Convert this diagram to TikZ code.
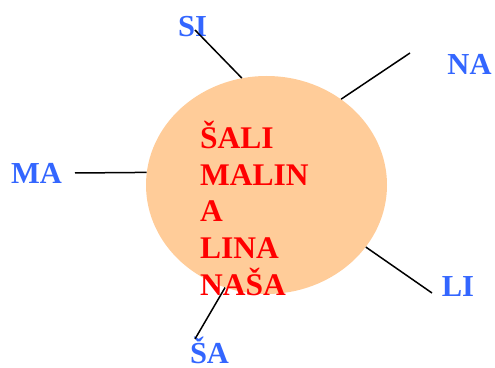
\documentclass[tikz,border=0pt]{standalone}
\usepackage{fontspec}
\setmainfont{Liberation Serif}
\usetikzlibrary{shapes.geometric}
\definecolor{peach}{HTML}{FFCC99}
\definecolor{syllblue}{HTML}{3366FF}
\begin{document}
\begin{tikzpicture}[x = 1pt, y = 1pt,
    word/.style = {font = \fontsize{31.5}{36}\selectfont\bfseries, inner sep = 0pt, text = red, anchor = base west},
    syll/.style = {font = \fontsize{30.5}{36}\selectfont\bfseries, inner sep = 0pt, text = syllblue, anchor = base},
    spoke/.style = {line width = 1.5pt, black}]
      \useasboundingbox (0, 0) rectangle (495, 367);
      \node[ellipse, fill = peach, inner sep = 0pt, minimum width = 241pt, minimum height = 218pt] (blob) at (266.5, 182) {};
      % words in the middle
      \node[word] (w1) at (200, 218) {ŠALI};
      \node[word] (w2) at (200, 181) {MALIN};
      \node[word] (w3) at (200, 145) {A};
      \node[word] (w4) at (200, 108) {LINA};
      \node[word] (w5) at (200, 72) {NAŠA};
      % syllables round it
      \node[syll] (si) at (192.5, 330) {SI};
      \node[syll] (na) at (469.5, 292) {NA};
      \node[syll] (ma) at (36.5, 183) {MA};
      \node[syll] (li) at (458, 71) {LI};
      \node[syll] (sa) at (209.5, 4) {ŠA};
      \coordinate (siend) at (195, 337);
      \coordinate (naend) at (410, 314);
      \coordinate (maend) at (75, 194);
      \coordinate (liend) at (432, 74);
      \coordinate (saend) at (195, 28);
      \draw[spoke] (siend) -- (blob.103);
      \draw[spoke] (naend) -- (blob.49.5);
      \draw[spoke] (maend) -- (blob.174);
      \draw[spoke] (liend) -- (blob.-32.6);
      \draw[spoke] (saend) -- (blob.-112);
\end{tikzpicture}
\end{document}
